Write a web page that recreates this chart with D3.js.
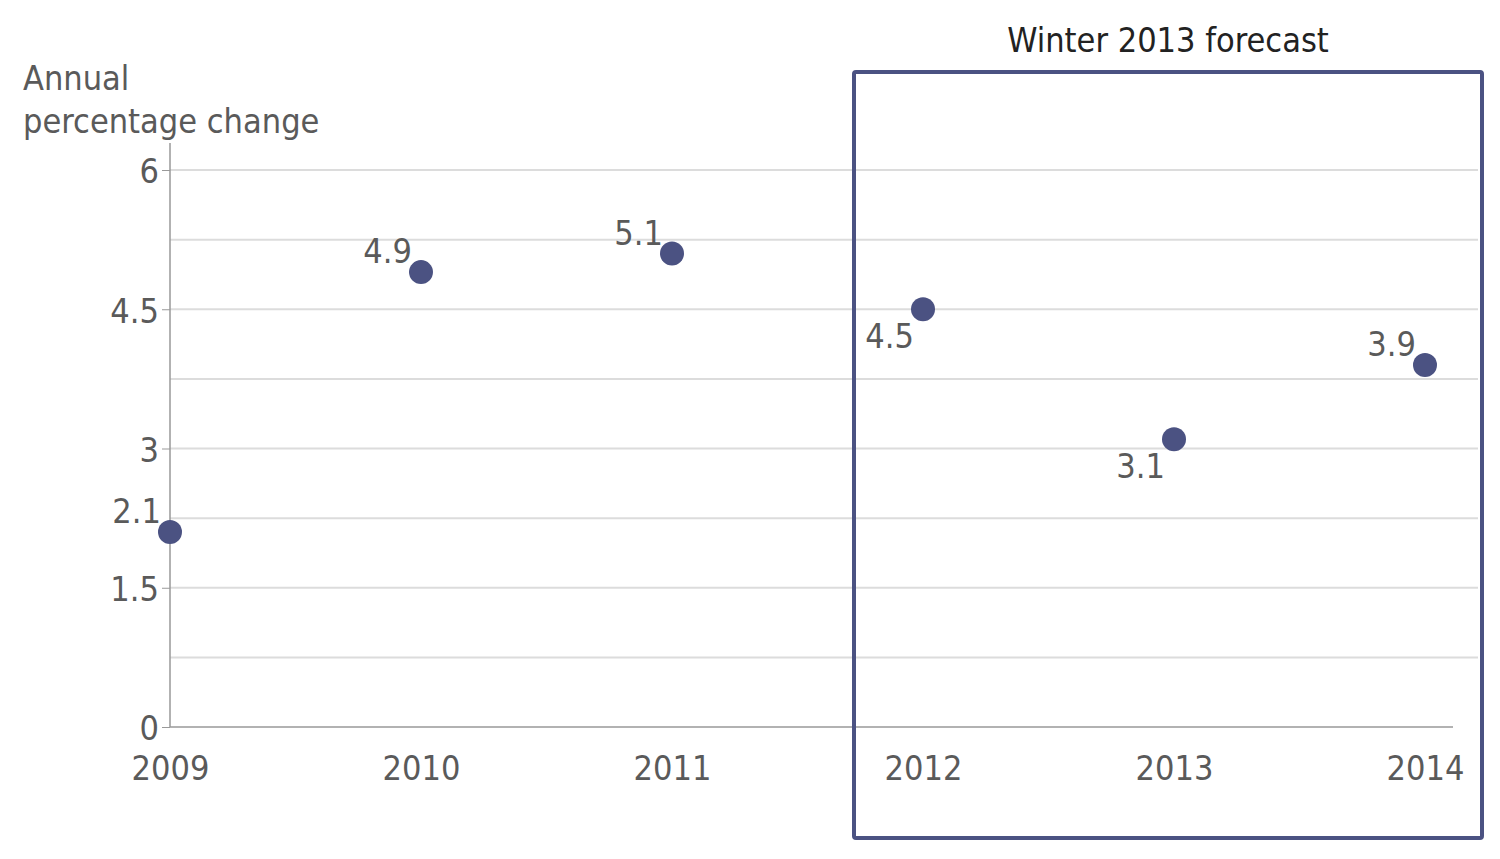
<!DOCTYPE html>
<html><head><meta charset="utf-8">
<script src="https://cdn.jsdelivr.net/npm/d3@7"></script>
<style>
body{margin:0;background:#fff;}
text{font-family:"DejaVu Sans Condensed","DejaVu Sans",sans-serif;}
</style></head>
<body>
<svg id="c" width="1500" height="859"></svg>
<script>
const years = ["2009","2010","2011","2012","2013","2014"];
const values = [2.1, 4.9, 5.1, 4.5, 3.1, 3.9];
const labelPos = ["above","above","above","below","below","above"];
const yTicks = [0, 1.5, 3, 4.5, 6];
const yGrid = [0.75, 1.5, 2.25, 3, 3.75, 4.5, 5.25, 6];
const forecastYears = ["2012","2013","2014"];
const forecastTitle = "Winter 2013 forecast";
const yTitle = ["Annual", "percentage change"];

const FS = 34;
const svg = d3.select("#c");
const x = d3.scalePoint().domain(years).range([170, 1425]);
const y = d3.scaleLinear().domain([0, 6]).range([727, 170]);
const textCol = "#5a5a5a";
const dotCol = "#4b5282";
const ff = '"DejaVu Sans Condensed","DejaVu Sans",sans-serif';

// grid
svg.append("g").selectAll("line").data(yGrid).join("line")
  .attr("x1", 170).attr("x2", 1478)
  .attr("y1", d => y(d)).attr("y2", d => y(d))
  .attr("stroke", "#dcdcdc").attr("stroke-width", 2);

// y axis
const yAxis = svg.append("g").attr("transform", "translate(170,0)")
  .call(d3.axisLeft(y).tickValues(yTicks).tickSize(8).tickPadding(3).tickFormat(d3.format("")));
yAxis.select(".domain").remove();
yAxis.selectAll(".tick line").attr("stroke", "#999");
yAxis.selectAll(".tick text").attr("fill", textCol).attr("font-size", FS)
  .attr("font-family", ff).attr("dy", "0.38em");
svg.append("line").attr("x1", 170).attr("x2", 170).attr("y1", 143).attr("y2", y(0))
  .attr("stroke", "#999").attr("stroke-width", 1.5);

// x axis
const xAxis = svg.append("g").attr("transform", `translate(0,${y(0)})`)
  .call(d3.axisBottom(x).tickSize(0).tickPadding(29));
xAxis.select(".domain").remove();
xAxis.selectAll(".tick text").attr("fill", textCol).attr("font-size", FS).attr("font-family", ff);
svg.append("line").attr("x1", 170).attr("x2", 1453).attr("y1", y(0)).attr("y2", y(0))
  .attr("stroke", "#999").attr("stroke-width", 1.5);

// y title
svg.append("g").selectAll("text").data(yTitle).join("text")
  .attr("x", 23).attr("y", (d, i) => 90 + i * 43)
  .attr("fill", textCol).attr("font-size", FS).text(d => d);

// forecast box
const fx0 = x(forecastYears[0]) - 69, fx1 = x(forecastYears[forecastYears.length - 1]) + 57;
svg.append("rect").attr("x", fx0).attr("y", 72).attr("width", fx1 - fx0).attr("height", 766)
  .attr("fill", "none").attr("stroke", dotCol).attr("stroke-width", 4).attr("rx", 2);
svg.append("text").attr("x", (fx0 + fx1) / 2).attr("y", 52).attr("text-anchor", "middle")
  .attr("fill", "#222").attr("font-size", FS).text(forecastTitle);

// dots
const data = years.map((yr, i) => ({yr, v: values[i], pos: labelPos[i]}));
svg.append("g").selectAll("circle").data(data).join("circle")
  .attr("cx", d => x(d.yr)).attr("cy", d => y(d.v)).attr("r", 12).attr("fill", dotCol);
svg.append("g").selectAll("text").data(data).join("text")
  .attr("x", d => x(d.yr) - 9)
  .attr("y", d => d.pos === "above" ? y(d.v) - 9 : y(d.v) + 39)
  .attr("text-anchor", "end").attr("fill", textCol).attr("font-size", FS)
  .text(d => d3.format(".1f")(d.v));
</script>
</body></html>
